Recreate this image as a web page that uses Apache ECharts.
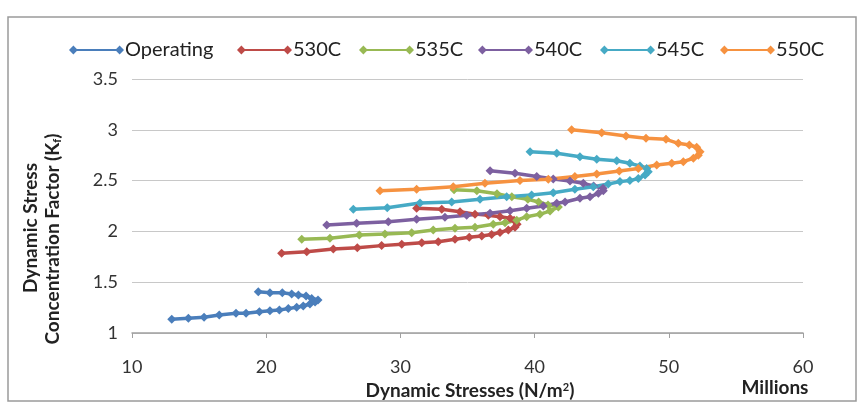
<!DOCTYPE html>
<html>
<head>
<meta charset="utf-8">
<script src="https://cdn.jsdelivr.net/npm/echarts@6/dist/echarts.min.js"></script>
<style>
    html, body { margin: 0; padding: 0; background: #fff; }
    #chart { width: 860px; height: 409px; }
</style>
</head>
<body>
<div id="chart"></div>
<script>
// [stress (millions N/m2), Kf] pairs in drawing order
const operating = [
    [12.96, 1.135], [14.2, 1.145], [15.37, 1.155], [16.5, 1.177], [17.75, 1.194],
    [18.5, 1.194], [19.49, 1.21], [20.28, 1.22], [20.98, 1.226], [21.65, 1.24],
    [22.27, 1.253], [22.76, 1.266], [23.26, 1.285], [23.64, 1.305], [23.86, 1.325],
    [23.39, 1.34], [22.97, 1.364], [22.4, 1.374], [21.9, 1.384], [21.2, 1.397],
    [20.28, 1.397], [19.41, 1.406]
];
const c530 = [
    [21.15, 1.784], [23.02, 1.80], [25.0, 1.827], [26.79, 1.84], [28.6, 1.86],
    [30.1, 1.873], [31.59, 1.889], [32.82, 1.899], [34.07, 1.922], [35.13, 1.942],
    [36.06, 1.955], [36.8, 1.97], [37.42, 1.99], [38.04, 2.014], [38.54, 2.04],
    [38.7, 2.07], [38.47, 2.11], [38.17, 2.13], [37.42, 2.145], [36.55, 2.16],
    [35.56, 2.17], [34.44, 2.194], [33.08, 2.217], [31.21, 2.227]
];
const c535 = [
    [22.65, 1.922], [24.75, 1.932], [26.94, 1.965], [28.85, 1.974], [30.84, 1.987],
    [32.45, 2.014], [34.07, 2.03], [35.56, 2.04], [36.92, 2.07], [37.8, 2.085],
    [38.67, 2.11], [39.41, 2.145], [40.4, 2.17], [41.15, 2.2], [41.77, 2.24],
    [41.0, 2.26], [40.3, 2.29], [39.5, 2.316], [38.3, 2.34], [37.2, 2.37],
    [35.7, 2.40], [34.0, 2.41]
];
const c540 = [
    [24.51, 2.063], [26.74, 2.08], [29.1, 2.095], [31.21, 2.12], [33.32, 2.14],
    [34.94, 2.16], [36.68, 2.178], [38.17, 2.204], [39.41, 2.227], [40.65, 2.25],
    [41.65, 2.277], [42.27, 2.29], [43.38, 2.326], [44.13, 2.34], [44.75, 2.375],
    [45.12, 2.40], [45.1, 2.425], [44.4, 2.447], [43.63, 2.473], [42.64, 2.496],
    [41.39, 2.516], [40.16, 2.54], [38.54, 2.572], [36.68, 2.597]
];
const c545 = [
    [26.49, 2.218], [29.02, 2.233], [31.46, 2.28], [33.82, 2.29], [35.93, 2.316],
    [37.92, 2.34], [39.78, 2.358], [41.39, 2.38], [43.0, 2.414], [44.37, 2.44],
    [45.49, 2.467], [46.36, 2.49], [47.1, 2.5], [47.73, 2.52], [48.23, 2.555],
    [48.47, 2.588], [48.35, 2.62], [47.85, 2.644], [47.1, 2.67], [46.12, 2.696],
    [44.63, 2.71], [43.38, 2.735], [41.65, 2.769], [39.66, 2.785]
];
const c550 = [
    [28.48, 2.40], [31.21, 2.414], [33.94, 2.44], [36.3, 2.473], [38.91, 2.5],
    [41.02, 2.513], [43.0, 2.54], [44.63, 2.565], [46.31, 2.594], [47.73, 2.62],
    [49.1, 2.654], [50.22, 2.67], [51.08, 2.686], [51.83, 2.72], [52.2, 2.75],
    [52.33, 2.785], [52.08, 2.828], [51.53, 2.85], [50.71, 2.867], [49.79, 2.906],
    [48.3, 2.916], [46.81, 2.94], [45.0, 2.97], [42.76, 3.0]
];

const seriesNames = ["Operating", "530C", "535C", "540C", "545C", "550C"];
const seriesData = [operating, c530, c535, c540, c545, c550];
const colors = ["#4A7EBB", "#BE4B48", "#98B954", "#7D60A0", "#46AAC5", "#F69240"];
// left edge of each legend entry
const legendLeft = [64, 232, 354, 473, 595, 715];

let chart = echarts.init(document.getElementById("chart"));
let font = "Lato, 'Open Sans', sans-serif";

let option = {
    animation: false,
    color: colors,
    textStyle: { fontFamily: font },
    // one legend per entry so the spacing can follow the picture
    legend: seriesNames.map((name, i) => {
        return {
            top: 35,
            left: legendLeft[i],
            itemWidth: 55,
            itemHeight: 9,
            icon: "path://M0,4 L4,0 L8,4 L4,8 Z M4,3 H46 V5 H4 Z M42,4 L46,0 L50,4 L46,8 Z",
            textStyle: { fontSize: 20, color: "#222", padding: [0, 0, 0, -4] },
            data: [name]
        }
    }),
    grid: {
        left: 132,
        right: 57,
        top: 79,
        bottom: 76
    },
    xAxis: {
        type: "value",
        min: 10,
        max: 60,
        interval: 10,
        axisLine: { show: true, lineStyle: { color: "#a0a0a0", width: 1.5 } },
        axisTick: { show: true, length: 5, lineStyle: { color: "#a0a0a0" } },
        axisLabel: { fontSize: 18, color: "#333", margin: 25 },
        splitLine: { show: false }
    },
    yAxis: {
        type: "value",
        min: 1,
        max: 3.5,
        interval: 0.5,
        axisLine: { show: false },
        axisTick: { show: false },
        axisLabel: { fontSize: 18, color: "#333", margin: 14 },
        splitLine: { show: true, lineStyle: { color: "#c8c8c8", width: 1 } }
    },
    graphic: [
        {
            type: "rect",
            shape: { x: 8, y: 17, width: 848, height: 384 },
            style: { fill: "none", stroke: "#9a9a9a", lineWidth: 1.5 },
            silent: true
        },
        {
            type: "text",
            x: 31,
            y: 228,
            rotation: Math.PI / 2,
            style: {
                text: "Dynamic Stress",
                font: "bold 19px " + font,
                fill: "#222",
                align: "center",
                verticalAlign: "middle"
            }
        },
        {
            type: "text",
            x: 53,
            y: 239,
            rotation: Math.PI / 2,
            style: {
                text: "Concentration Factor (K{sub|f})",
                font: "bold 19px " + font,
                fill: "#222",
                align: "center",
                verticalAlign: "middle",
                rich: {
                    sub: { font: "bold 11px " + font, fill: "#222", padding: [8, 0, 0, 0] }
                }
            }
        },
        {
            type: "text",
            x: 470,
            y: 391,
            style: {
                text: "Dynamic Stresses (N/m{sup|2})",
                font: "bold 19px " + font,
                fill: "#222",
                align: "center",
                verticalAlign: "middle",
                rich: {
                    sup: { font: "bold 11px " + font, fill: "#222", padding: [0, 0, 8, 0] }
                }
            }
        },
        {
            type: "text",
            x: 775,
            y: 388,
            style: {
                text: "Millions",
                font: "bold 19px " + font,
                fill: "#222",
                align: "center",
                verticalAlign: "middle"
            }
        }
    ],
    series: seriesNames.map((name, i) => {
        return {
            name: name,
            type: "line",
            data: seriesData[i],
            symbol: "diamond",
            symbolSize: 9,
            showSymbol: true,
            lineStyle: { width: 3.5 },
            itemStyle: { color: colors[i] }
        }
    })
};

chart.setOption(option);
</script>
</body>
</html>
